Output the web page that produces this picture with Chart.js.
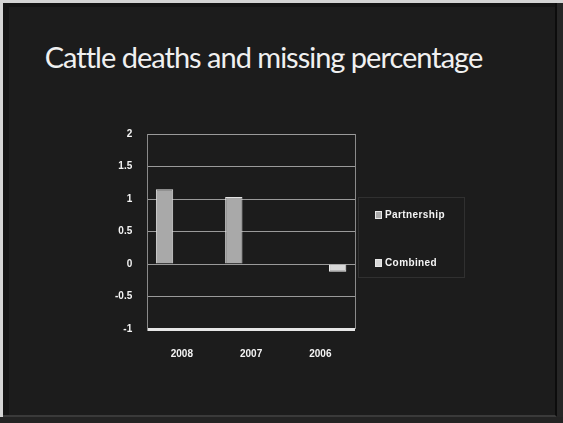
<!DOCTYPE html>
<html>
<head>
<meta charset="utf-8">
<script src="https://cdn.jsdelivr.net/npm/chart.js@4/dist/chart.umd.min.js"></script>
<style>
    html, body { margin: 0; padding: 0; }
    body {
        width: 563px;
        height: 423px;
        background: #d4d4d4;
        overflow: hidden;
        position: relative;
    }
    .slide {
        position: absolute;
        left: 3px;
        top: 3px;
        width: 552px;
        height: 412px;
        background: #1c1c1c;
        border-right: 2px solid #0c0c0c;
        border-bottom: 2px solid #3a3a3a;
        box-shadow: inset 6px 4px 0 #141414;
    }
    .margin {
        position: absolute;
        left: 557px;
        top: 3px;
        width: 6px;
        height: 420px;
        background: #262626;
    }
    .footer {
        position: absolute;
        left: 0;
        top: 417px;
        width: 563px;
        height: 6px;
        background: #232323;
    }
    h1 {
        position: absolute;
        left: 0;
        top: 39px;
        width: 527px;
        margin: 0;
        text-align: center;
        font-family: Lato, sans-serif;
        font-weight: normal;
        font-size: 29px;
        letter-spacing: -1px;
        color: #f0f0f0;
    }
    .chart-box {
        position: absolute;
        left: 100px;
        top: 113px;
        width: 260px;
        height: 264px;
    }
    #legend {
        position: absolute;
        left: 358px;
        top: 197px;
        width: 107px;
        height: 81px;
        border: 1px solid #303030;
        box-sizing: border-box;
        margin: 0;
        padding: 11px 0 0 16px;
        list-style: none;
        font-family: 'Liberation Sans', Arial, sans-serif;
        font-size: 10px;
        font-weight: bold;
        letter-spacing: 0.4px;
        color: #f4f4f4;
    }
    #legend li {
        height: 12px;
        line-height: 12px;
        margin-bottom: 36px;
        white-space: nowrap;
    }
    #legend .swatch {
        display: inline-block;
        width: 5px;
        height: 6px;
        margin-right: 3px;
        vertical-align: -1px;
        border: 1px solid #e8e8e8;
    }
</style>
</head>
<body>
<div class="slide"></div>
<div class="margin"></div>
<div class="footer"></div>
<h1>Cattle deaths and missing percentage</h1>
<div class="chart-box"><canvas id="cattleChart"></canvas></div>
<ul id="legend"></ul>

<script>
    // Years along the bottom
    const years = ['2008', '2007', '2006'];

    // Percentage values for each series
    const partnership = [1.15, 1.03, null];
    const combined = [null, null, -0.12];

    // Value axis range and step
    const yMin = -1;
    const yMax = 2;
    const yStep = 0.5;

    // Right-hand edge of the plot area
    const framePlugin = {
        id: 'framePlugin',
        afterDraw(chart) {
            const ctx = chart.ctx;
            const a = chart.chartArea;
            ctx.save();
            ctx.strokeStyle = '#8a8a8a';
            ctx.lineWidth = 1;
            ctx.beginPath();
            ctx.moveTo(a.right + 0.5, a.top);
            ctx.lineTo(a.right + 0.5, a.bottom);
            ctx.stroke();
            ctx.restore();
        }
    };

    const ctx = document.getElementById('cattleChart').getContext('2d');
    const cattleChart = new Chart(ctx, {
        type: 'bar',
        data: {
            labels: years,
            datasets: [{
                label: 'Partnership',
                data: partnership,
                backgroundColor: '#a9a9a9',
                borderColor: '#e2e2e2',
                borderWidth: 1
            }, {
                label: 'Combined',
                data: combined,
                backgroundColor: '#d8d8d8',
                borderColor: '#f2f2f2',
                borderWidth: 1
            }]
        },
        options: {
            responsive: true,
            maintainAspectRatio: false,
            animation: false,
            categoryPercentage: 1.0,
            barPercentage: 0.5,
            layout: {
                padding: { top: 0, right: 5, bottom: 6, left: 0 }
            },
            scales: {
                y: {
                    min: yMin,
                    max: yMax,
                    ticks: {
                        stepSize: yStep,
                        color: '#f4f4f4',
                        padding: 15,
                        callback: value => String(value),
                        font: { family: 'Liberation Sans', size: 10, weight: 'bold' }
                    },
                    border: { display: true, color: '#8a8a8a' },
                    grid: {
                        drawTicks: false,
                        color: ctx => ctx.tick && ctx.tick.value === yMin ? '#e6e6e6' : '#9a9a9a',
                        lineWidth: ctx => ctx.tick && ctx.tick.value === yMin ? 3 : 1
                    }
                },
                x: {
                    ticks: {
                        color: '#f4f4f4',
                        padding: 11,
                        font: { family: 'Liberation Sans', size: 10, weight: 'bold' }
                    },
                    border: { display: false },
                    grid: { display: false }
                }
            },
            plugins: {
                legend: { display: false },
                tooltip: { enabled: false }
            }
        },
        plugins: [framePlugin]
    });

    // Legend built from the chart's own legend items
    const legendList = document.getElementById('legend');
    cattleChart.options.plugins.legend.labels.generateLabels(cattleChart).forEach(item => {
        const li = document.createElement('li');
        const swatch = document.createElement('span');
        swatch.className = 'swatch';
        swatch.style.background = item.fillStyle;
        li.appendChild(swatch);
        li.appendChild(document.createTextNode(item.text));
        legendList.appendChild(li);
    });
</script>
</body>
</html>
